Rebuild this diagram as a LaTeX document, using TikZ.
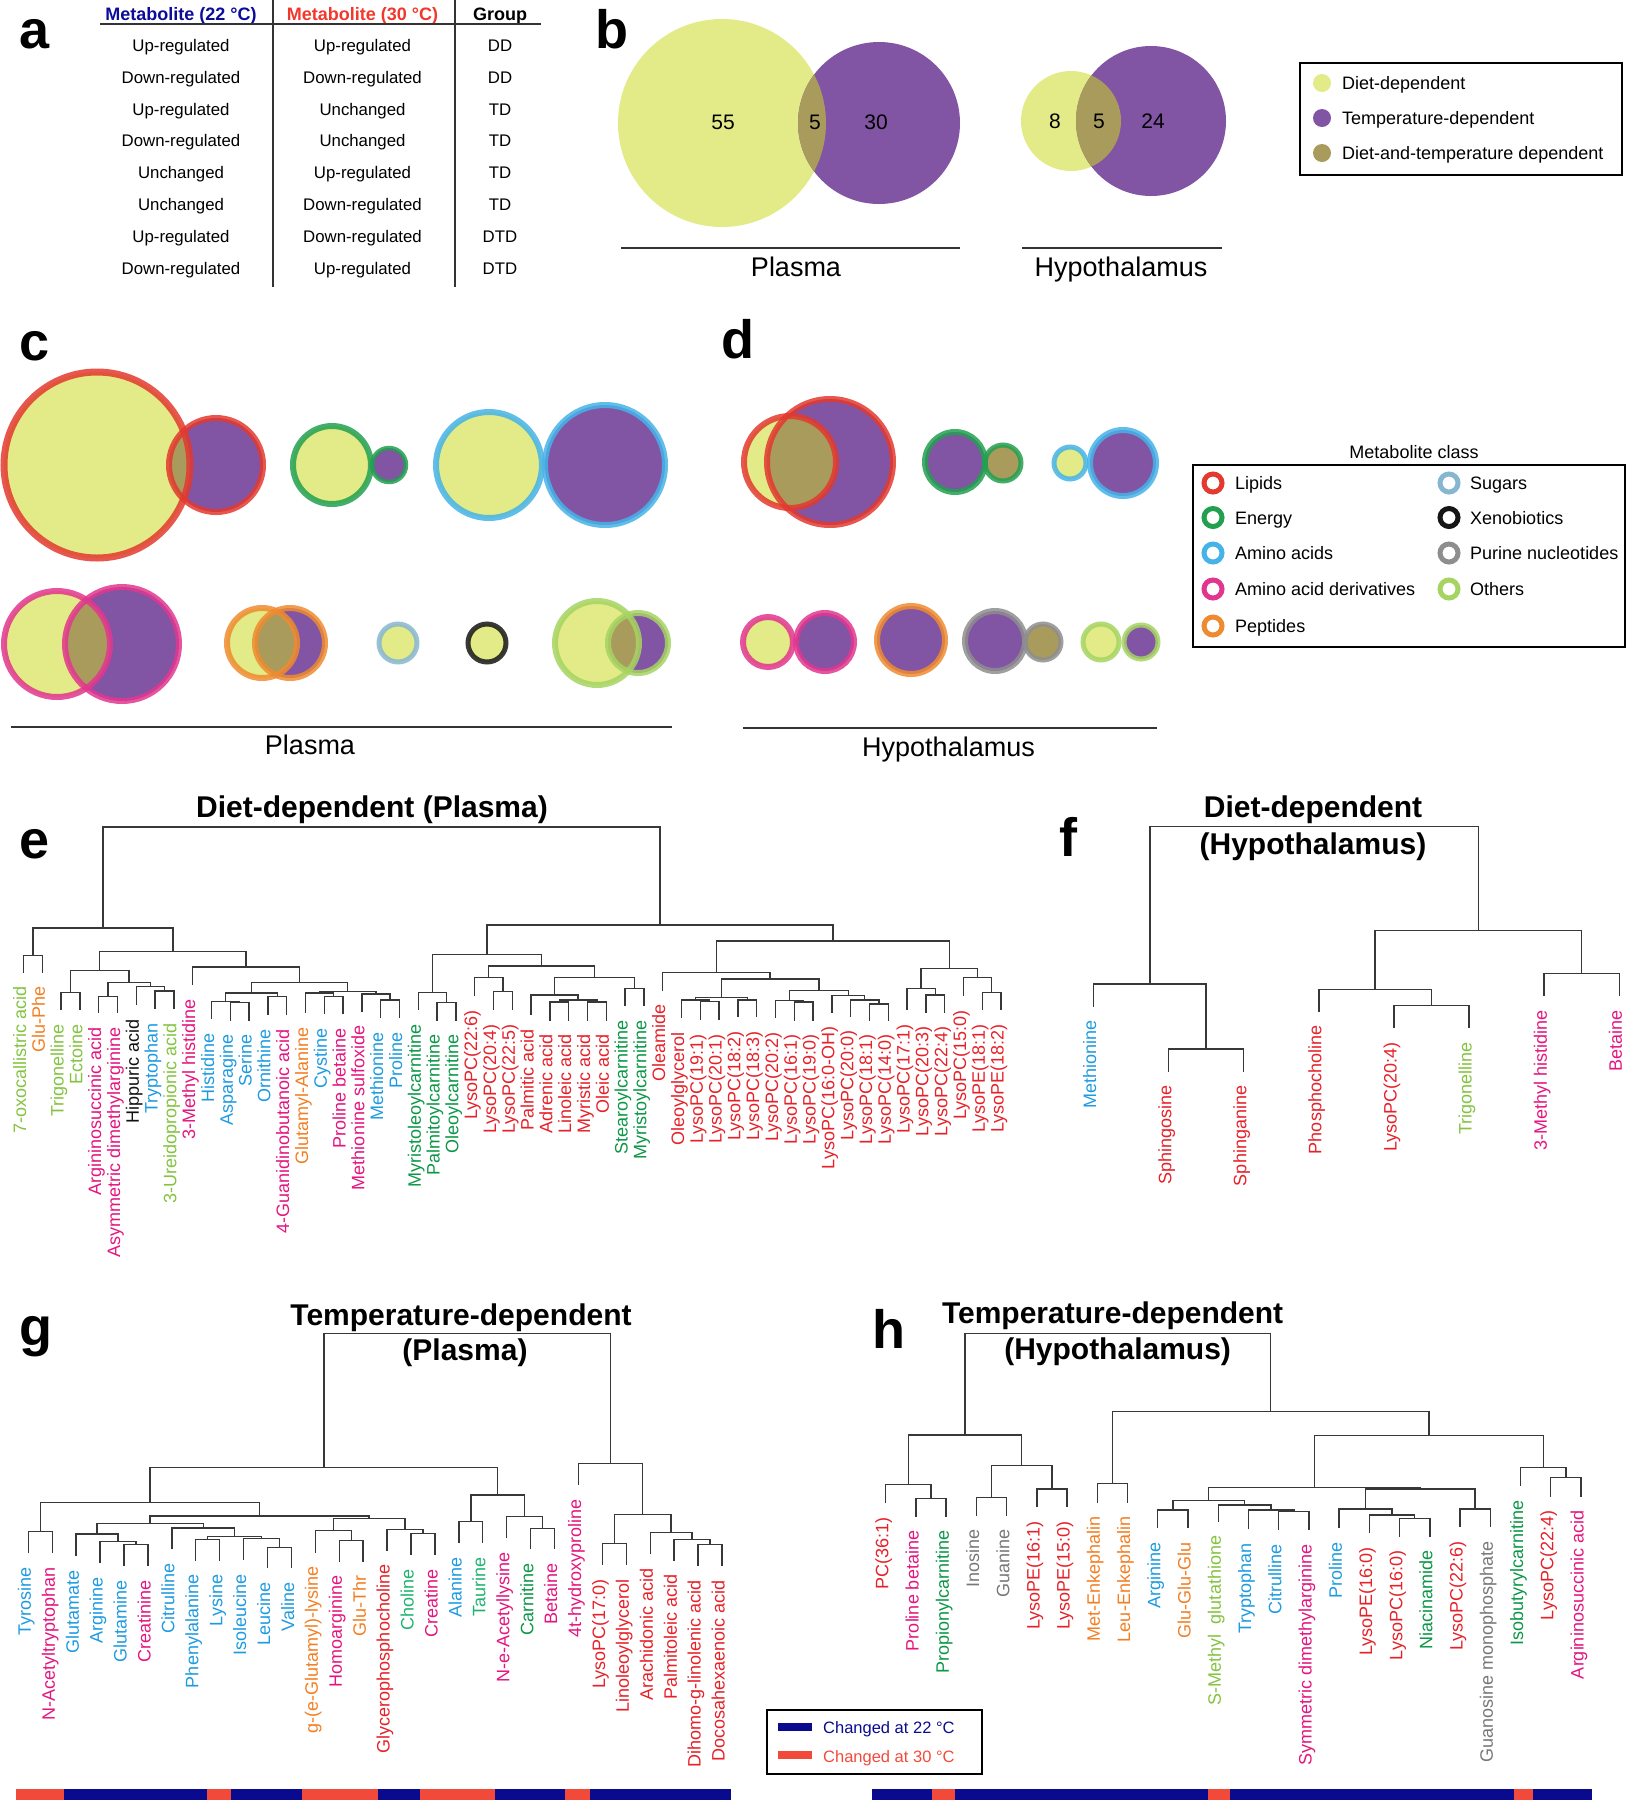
\documentclass[tikz,border=0pt]{standalone}
\usepackage{fontspec}
\setmainfont{Liberation Sans}
\usetikzlibrary{calc}
\definecolor{DietY}{HTML}{E2EB87}
\definecolor{TempP}{HTML}{8254A4}
\definecolor{BothO}{HTML}{A99B5B}
\definecolor{RLip}{HTML}{E3392E}
\definecolor{REn}{HTML}{22A050}
\definecolor{RAa}{HTML}{45B3E8}
\definecolor{RAad}{HTML}{E2368E}
\definecolor{RPep}{HTML}{EE8B30}
\definecolor{RSug}{HTML}{87B6D0}
\definecolor{RXen}{HTML}{161616}
\definecolor{RPur}{HTML}{8E8E8E}
\definecolor{ROth}{HTML}{A6D462}
\definecolor{TLip}{HTML}{E62129}
\definecolor{TEn}{HTML}{0B9746}
\definecolor{TEnb}{HTML}{1FB370}
\definecolor{TAa}{HTML}{1D9BE0}
\definecolor{TAad}{HTML}{E5157F}
\definecolor{TPep}{HTML}{F37E22}
\definecolor{TOth}{HTML}{84C341}
\definecolor{TPur}{HTML}{777777}
\definecolor{TXen}{HTML}{111111}
\definecolor{BarBlue}{HTML}{0A0A8F}
\definecolor{BarRed}{HTML}{F24A3A}
\definecolor{HeadBlue}{HTML}{0C0C9A}
\definecolor{HeadRed}{HTML}{F2372C}

% dendrogram merge: name, child, child, height
\newcommand\dmerge[4]{%
  \path let \p1=(#2), \p2=(#3) in ({(\x1+\x2)/2},{-#4pt}) coordinate (#1);
  \draw[dend] (#2) |- (#1) -| (#3);}
% venn pieces
\newcommand\vennfill[4]{\fill[#4] (#1,#2) circle (#3pt);}
\newcommand\vennring[4]{\draw[ring,#4] (#1,#2) circle (#3pt);}
\newcommand\vennboth[6]{\begin{scope}\clip (#1,#2) circle (#3pt);
  \fill[BothO] (#4,#5) circle (#6pt);\end{scope}}

\begin{document}
\begin{tikzpicture}[x=1pt,y=-1pt,
  dend/.style={draw=black!78,line width=1.4pt},
  rule/.style={draw=black!80,line width=2pt},
  lbox/.style={draw=black,line width=2.5pt},
  leaf/.style={rotate=90,anchor=mid east,inner sep=0pt,font=\fontsize{18}{18}\selectfont},
  plab/.style={anchor=base west,inner sep=0pt,font=\fontsize{54}{54}\selectfont\bfseries},
  cell/.style={anchor=base,inner sep=0pt,font=\fontsize{16.8}{18}\selectfont},
  head/.style={anchor=base,inner sep=0pt,font=\fontsize{18}{20}\selectfont\bfseries},
  ttl/.style={anchor=base,inner sep=0pt,font=\fontsize{30}{30}\selectfont\bfseries},
  tissue/.style={anchor=base,inner sep=0pt,font=\fontsize{27}{27}\selectfont},
  key/.style={anchor=base west,inner sep=0pt,font=\fontsize{18}{18}\selectfont},
  chg/.style={anchor=base west,inner sep=0pt,font=\fontsize{16.5}{16.5}\selectfont},
  num/.style={anchor=base,inner sep=0pt,font=\fontsize{21}{21}\selectfont},
  ring/.style={line width=6pt,draw opacity=0.85},
  keyring/.style={line width=5pt,fill=white}]
\useasboundingbox (0,0) rectangle (1627,1800);

% panel letters
\node[plab] (pa) at (19,48) {a};
\node[plab] (pb) at (595,48) {b};
\node[plab] (pc) at (19,360) {c};
\node[plab] (pd) at (721,358) {d};
\node[plab] (pe) at (19,858) {e};
\node[plab] (pf) at (1059,856.7) {f};
\node[plab] (pg) at (19,1345) {g};
\node[plab] (ph) at (872,1348.3) {h};

% a: table
\node[head,text=HeadBlue] (h22) at (181,20) {Metabolite (22 °C)};
\node[head,text=HeadRed] (h30) at (362.5,20) {Metabolite (30 °C)};
\node[head] (hgr) at (500,20) {Group};
\draw[rule] (100,24) -- (541,24);
\draw[rule] (273,0) -- (273,287);
\draw[rule] (454.5,0) -- (454.5,287);
\foreach \ua/\ub/\gr [count=\r] in {Up-regulated/Up-regulated/DD,
  Down-regulated/Down-regulated/DD, Up-regulated/Unchanged/TD,
  Down-regulated/Unchanged/TD, Unchanged/Up-regulated/TD,
  Unchanged/Down-regulated/TD, Up-regulated/Down-regulated/DTD,
  Down-regulated/Up-regulated/DTD}{
  \pgfmathsetmacro\ry{51.7+(\r-1)*31.76}
  \node[cell] (ra\r) at (181,\ry) {\ua};
  \node[cell] (rb\r) at (362.5,\ry) {\ub};
  \node[cell] (rc\r) at (500,\ry) {\gr};
}

% b: venn
\vennfill{722}{123}{104}{DietY}
\vennfill{879}{123}{81}{TempP}
\vennboth{722}{123}{104}{879}{123}{81}
\node[num] (b55) at (723,129.5) {55};
\node[num] (b5a) at (815,129.5) {5};
\node[num] (b30) at (876,129.5) {30};
\draw[rule] (621,248) -- (960,248);
\node[tissue] (bpl) at (796,276.7) {Plasma};
\vennfill{1071}{121}{50}{DietY}
\vennfill{1151}{121}{75}{TempP}
\vennboth{1071}{121}{50}{1151}{121}{75}
\node[num] (b8) at (1055,128.5) {8};
\node[num] (b5b) at (1099,128.5) {5};
\node[num] (b24) at (1153,128.5) {24};
\draw[rule] (1022,248) -- (1222,248);
\node[tissue] (bhy) at (1121,276) {Hypothalamus};
\draw[lbox] (1300,63) rectangle (1622,175);
\fill[DietY] (1322,83) circle (9pt);
\fill[TempP] (1322,118) circle (9pt);
\fill[BothO] (1322,153) circle (9pt);
\node[key] (kd) at (1342,89.5) {Diet-dependent};
\node[key] (kt) at (1342,124.5) {Temperature-dependent};
\node[key] (kdt) at (1342,159.5) {Diet-and-temperature dependent};

% c: plasma classes
\vennfill{97}{465}{93}{DietY}
\vennfill{216}{465}{47}{TempP}
\vennboth{97}{465}{93}{216}{465}{47}
\vennfill{332}{465}{39}{DietY}
\vennfill{389}{465}{17}{TempP}
\vennfill{489}{465}{53}{DietY}
\vennfill{605}{465}{60}{TempP}
\vennfill{57}{644}{53}{DietY}
\vennfill{122}{644}{57}{TempP}
\vennboth{57}{644}{53}{122}{644}{57}
\vennfill{262}{643}{35}{DietY}
\vennfill{290}{643}{35}{TempP}
\vennboth{262}{643}{35}{290}{643}{35}
\vennfill{398}{643}{19}{DietY}
\vennfill{487}{643}{19}{DietY}
\vennfill{597}{643}{42}{DietY}
\vennfill{638}{643}{30}{TempP}
\vennboth{597}{643}{42}{638}{643}{30}
\vennring{97}{465}{93}{RLip,line width=7pt}
\vennring{216}{465}{47}{RLip}
\vennring{332}{465}{39}{REn}
\vennring{389}{465}{17}{REn,line width=4.5pt}
\vennring{489}{465}{53}{RAa}
\vennring{605}{465}{60}{RAa}
\vennring{57}{644}{53}{RAad}
\vennring{122}{644}{57}{RAad}
\vennring{262}{643}{35}{RPep}
\vennring{290}{643}{35}{RPep}
\vennring{398}{643}{19}{RSug,line width=5pt}
\vennring{487}{643}{19}{RXen,line width=5pt}
\vennring{597}{643}{42}{ROth}
\vennring{638}{643}{30}{ROth}
\draw[rule] (11,727) -- (672,727);
\node[tissue] (cpl) at (310,754.5) {Plasma};

% d: hypothalamus classes
\vennfill{790}{462}{46}{DietY}
\vennfill{830}{462}{63}{TempP}
\vennboth{790}{462}{46}{830}{462}{63}
\vennfill{955}{462}{30}{TempP}
\vennfill{1003}{463}{18}{BothO}
\vennfill{1070}{463}{16}{DietY}
\vennfill{1123}{463}{33}{TempP}
\vennfill{768}{642}{25}{DietY}
\vennfill{825}{642}{29}{TempP}
\vennfill{911}{640}{34}{TempP}
\vennfill{995}{641}{30}{TempP}
\vennfill{1043}{642}{18}{BothO}
\vennfill{1101}{642}{18}{DietY}
\vennfill{1141}{642}{17}{TempP}
\vennring{790}{462}{46}{RLip}
\vennring{830}{462}{63}{RLip}
\vennring{955}{462}{30}{REn}
\vennring{1003}{463}{18}{REn,line width=5pt}
\vennring{1070}{463}{16}{RAa,line width=5pt}
\vennring{1123}{463}{33}{RAa}
\vennring{768}{642}{25}{RAad}
\vennring{825}{642}{29}{RAad}
\vennring{911}{640}{34}{RPep}
\vennring{995}{641}{30}{RPur}
\vennring{1043}{642}{18}{RPur,line width=5pt}
\vennring{1101}{642}{18}{ROth,line width=5pt}
\vennring{1141}{642}{17}{ROth,line width=5pt}
\draw[rule] (743,728) -- (1157,728);
\node[tissue] (dhy) at (948.5,756) {Hypothalamus};

% metabolite class key
\node[key,anchor=base] (mck) at (1414,458.5) {Metabolite class};
\draw[lbox] (1193,465) rectangle (1625,647);
\foreach \rc/\nm/\yy [count=\k] in {RLip/Lipids/483, REn/Energy/517.5,
  RAa/Amino acids/553, RAad/Amino acid derivatives/589, RPep/Peptides/626}{
  \draw[keyring,draw=\rc] (1213,\yy) circle (9pt);
  \node[key] (mcl\k) at (1235,\yy+6.5) {\nm};
}
\foreach \rc/\nm/\yy [count=\k] in {RSug/Sugars/483, RXen/Xenobiotics/517.5,
  RPur/Purine nucleotides/553, ROth/Others/589}{
  \draw[keyring,draw=\rc] (1449,\yy) circle (9pt);
  \node[key] (mcr\k) at (1470,\yy+6.5) {\nm};
}

% e: diet-dependent plasma
\node[ttl] (etl) at (372,817.3) {Diet-dependent (Plasma)};
\foreach \tip/\col/\txt [count=\i] in {
  972.7/TOth/7-oxocallistric acid, 972.7/TPep/Glu-Phe,
  1010/TOth/Trigonelline, 1010/TOth/Ectoine,
  1013/TAad/Argininosuccinic acid, 1013/TAad/Asymmetric dimethylarginine,
  1005/TXen/Hippuric acid, 1009/TAa/Tryptophan,
  1009/TOth/3-Ureidopropionic acid, 985/TAad/3-Methyl histidine,
  1019/TAa/Histidine, 1020.7/TAa/Asparagine, 1020.7/TAa/Serine,
  1015/TAa/Ornithine, 1015/TAad/4-Guanidinobutanoic acid,
  1013/TPep/Glutamyl-Alanine, 1014/TAa/Cystine, 1014/TAad/Proline betaine,
  1011.7/TAad/Methionine sulfoxide, 1018/TAa/Methionine, 1018/TAa/Proline,
  1010/TEn/Myristoleoylcarnitine, 1020.7/TEn/Palmitoylcarnitine,
  1020.7/TEn/Oleoylcarnitine, 996/TLip/LysoPC(22:6), 1010/TLip/LysoPC(20:4),
  1010/TLip/LysoPC(22:5), 1015/TLip/Palmitic acid, 1020.7/TLip/Adrenic acid,
  1020.7/TLip/Linoleic acid, 1020.7/TLip/Myristic acid, 1020.7/TLip/Oleic acid,
  1006/TEn/Stearoylcarnitine, 1006/TEn/Myristoylcarnitine, 990.7/TLip/Oleamide,
  1018/TLip/Oleoylglycerol, 1020/TLip/LysoPC(19:1), 1020/TLip/LysoPC(20:1),
  1017/TLip/LysoPC(18:2), 1017/TLip/LysoPC(18:3), 1018/TLip/LysoPC(20:2),
  1020.7/TLip/LysoPC(16:1), 1020.7/TLip/LysoPC(19:0),
  1012.7/TLip/LysoPC(16:0-OH), 1016.7/TLip/LysoPC(20:0),
  1020.7/TLip/LysoPC(18:1), 1020.7/TLip/LysoPC(14:0), 1010/TLip/LysoPC(17:1),
  1012.7/TLip/LysoPC(20:3), 1012.7/TLip/LysoPC(22:4), 996/TLip/LysoPC(15:0),
  1010/TLip/LysoPE(18:1), 1010/TLip/LysoPE(18:2)}{
  \pgfmathsetmacro\lx{23.4+(\i-1)*18.8}
  \coordinate (e\i) at (\lx,\tip);
  \node[leaf,text=\col] (le\i) at ([yshift=-14pt]e\i) {\txt};
}
\dmerge{ea}{e1}{e2}{955.7}
\dmerge{eb}{e3}{e4}{992.7}
\dmerge{ec}{e5}{e6}{996.7}
\dmerge{ed}{e8}{e9}{991}
\dmerge{ee}{e7}{ed}{986.7}
\dmerge{ef}{ec}{ee}{982.3}
\dmerge{eg}{eb}{ef}{970.7}
\dmerge{eh}{e12}{e13}{1002.7}
\dmerge{ei}{e11}{eh}{1001.7}
\dmerge{ej}{e14}{e15}{996.7}
\dmerge{ek}{ei}{ej}{993}
\dmerge{el}{e17}{e18}{996.7}
\dmerge{em}{e16}{el}{993}
\dmerge{en}{e20}{e21}{1000}
\dmerge{eo}{e19}{en}{994}
\dmerge{ep}{em}{eo}{991.5}
\dmerge{eq}{ek}{ep}{982.7}
\dmerge{er}{e10}{eq}{967}
\dmerge{es}{eg}{er}{951.7}
\dmerge{et}{ea}{es}{928}
\dmerge{eu}{e23}{e24}{1002.7}
\dmerge{ev}{e22}{eu}{992.3}
\dmerge{ew}{e26}{e27}{991.7}
\dmerge{ex}{e25}{ew}{977.7}
\dmerge{ey}{e29}{e30}{1002}
\dmerge{ez}{e31}{e32}{1002}
\dmerge{eA}{ey}{ez}{1000}
\dmerge{eB}{e28}{eA}{995}
\dmerge{eC}{e33}{e34}{988.3}
\dmerge{eD}{eB}{eC}{977.7}
\dmerge{eE}{ex}{eD}{966}
\dmerge{eF}{ev}{eE}{954.3}
\dmerge{eG}{e37}{e38}{1001.7}
\dmerge{eH}{e36}{eG}{1000}
\dmerge{eI}{e39}{e40}{1000}
\dmerge{eJ}{eH}{eI}{997.3}
\dmerge{eK}{e42}{e43}{1002}
\dmerge{eL}{e41}{eK}{1000.7}
\dmerge{eM}{e46}{e47}{1004}
\dmerge{eN}{e45}{eM}{1000}
\dmerge{eO}{e44}{eN}{995.7}
\dmerge{eP}{eL}{eO}{990.7}
\dmerge{eQ}{eJ}{eP}{979}
\dmerge{eR}{e35}{eQ}{972.7}
\dmerge{eS}{e49}{e50}{995}
\dmerge{eT}{e48}{eS}{988.3}
\dmerge{eU}{e52}{e53}{992.3}
\dmerge{eV}{e51}{eU}{977.7}
\dmerge{eW}{eT}{eV}{968.3}
\dmerge{eX}{eR}{eW}{941}
\dmerge{eY}{eF}{eX}{925}
\dmerge{eZ}{et}{eY}{827}

% f: diet-dependent hypothalamus
\node[ttl] (ftl1) at (1313,817.3) {Diet-dependent};
\node[ttl] (ftl2) at (1313,854) {(Hypothalamus)};
\foreach \tip/\col/\txt [count=\i] in {
  1006.7/TAa/Methionine, 1071.7/TLip/Sphingosine, 1071.7/TLip/Sphinganine,
  1011.7/TLip/Phosphocholine, 1028/TLip/LysoPC(20:4), 1028/TOth/Trigonelline,
  996/TAad/3-Methyl histidine, 996/TAad/Betaine}{
  \pgfmathsetmacro\lx{1093.5+(\i-1)*75.1}
  \coordinate (f\i) at (\lx,\tip);
  \node[leaf,text=\col] (lf\i) at ([yshift=-14pt]f\i) {\txt};
}
\dmerge{fa}{f2}{f3}{1049}
\dmerge{fb}{f1}{fa}{984}
\dmerge{fc}{f5}{f6}{1005.7}
\dmerge{fd}{f4}{fc}{989.3}
\dmerge{fe}{f7}{f8}{973.3}
\dmerge{ff}{fd}{fe}{930.7}
\dmerge{fg}{fb}{ff}{826.7}

% g: temperature-dependent plasma
\node[ttl] (gtl1) at (461,1325) {Temperature-dependent};
\node[ttl] (gtl2) at (465,1360.7) {(Plasma)};
\foreach \tip/\col/\txt [count=\i] in {
  1553.3/TAa/Tyrosine, 1553.3/TAad/N-Acetyltryptophan, 1556/TAa/Glutamate,
  1563.3/TAa/Arginine, 1566/TAa/Glutamine, 1566/TAad/Creatinine,
  1549.3/TAa/Citrulline, 1560.7/TAa/Phenylalanine, 1560.7/TAa/Lysine,
  1560/TAa/Isoleucine, 1568.3/TAa/Leucine, 1568.3/TAa/Valine,
  1552.7/TPep/g-(e-Glutamyl)-lysine, 1561.7/TAad/Homoarginine,
  1561.7/TPep/Glu-Thr, 1550.7/TLip/Glycerophosphocholine, 1555/TEnb/Choline,
  1555/TAad/Creatine, 1543.3/TAa/Alanine, 1543.3/TEnb/Taurine,
  1538.3/TAad/N-e-Acetyllysine, 1549.3/TEn/Carnitine, 1549.3/TAad/Betaine,
  1485/TAad/4t-hydroxyproline, 1565/TLip/LysoPC(17:0),
  1565/TLip/Linoleoylglycerol, 1554.3/TLip/Arachidonic acid,
  1560.7/TLip/Palmitoleic acid, 1566/TLip/Dihomo-g-linolenic acid,
  1566/TLip/Docosahexaenoic acid}{
  \pgfmathsetmacro\lx{28.3+(\i-1)*23.92}
  \coordinate (g\i) at (\lx,\tip);
  \node[leaf,text=\col] (lg\i) at ([yshift=-14pt]g\i) {\txt};
}
\dmerge{ga}{g1}{g2}{1531.7}
\dmerge{gb}{g5}{g6}{1544.3}
\dmerge{gc}{g4}{gb}{1541.7}
\dmerge{gd}{g3}{gc}{1534}
\dmerge{ge}{g11}{g12}{1547.3}
\dmerge{gf}{g10}{ge}{1538.7}
\dmerge{gg}{g8}{g9}{1539.3}
\dmerge{gh}{gg}{gf}{1536.5}
\dmerge{gi}{g7}{gh}{1528}
\dmerge{gj}{gd}{gi}{1523.3}
\dmerge{gk}{g14}{g15}{1540.7}
\dmerge{gl}{g13}{gk}{1530.7}
\dmerge{gm}{g17}{g18}{1533.3}
\dmerge{gn}{g16}{gm}{1529.3}
\dmerge{go}{gl}{gn}{1518.3}
\dmerge{gp}{gj}{go}{1516}
\dmerge{gq}{ga}{gp}{1502.3}
\dmerge{gr}{g19}{g20}{1521.7}
\dmerge{gs}{g22}{g23}{1528.3}
\dmerge{gt}{g21}{gs}{1516.7}
\dmerge{gu}{gr}{gt}{1495}
\dmerge{gv}{gq}{gu}{1467.7}
\dmerge{gw}{g25}{g26}{1543.3}
\dmerge{gx}{g29}{g30}{1544.3}
\dmerge{gy}{g28}{gx}{1539.3}
\dmerge{gz}{g27}{gy}{1532.7}
\dmerge{gA}{gw}{gz}{1514.3}
\dmerge{gB}{g24}{gA}{1463.3}
\dmerge{gC}{gv}{gB}{1333.3}
% g: change bar
\foreach \xa/\xb/\bc in {16/63.7/BarRed, 63.7/206.7/BarBlue, 206.7/231.2/BarRed,
  231.2/302/BarBlue, 302/377.5/BarRed, 377.5/420/BarBlue, 420/494.5/BarRed,
  494.5/565.3/BarBlue, 565.3/590/BarRed, 590/731/BarBlue}
  \fill[\bc] (\xa,1789) rectangle (\xb,1800);

% h: temperature-dependent hypothalamus
\node[ttl] (htl1) at (1112.6,1323.3) {Temperature-dependent};
\node[ttl] (htl2) at (1117.6,1359.3) {(Hypothalamus)};
\foreach \tip/\col/\txt [count=\i] in {
  1503.3/TLip/PC(36:1), 1516.7/TAad/Proline betaine,
  1516.7/TEn/Propionylcarnitine, 1515.7/TPur/Inosine, 1515.7/TPur/Guanine,
  1507.3/TLip/LysoPE(16:1), 1507.3/TLip/LysoPE(15:0),
  1502.7/TPep/Met-Enkephalin, 1502.7/TPep/Leu-Enkephalin,
  1528.3/TAa/Arginine, 1528.3/TPep/Glu-Glu-Glu,
  1521.7/TOth/S-Methyl~ glutathione, 1529.3/TAa/Tryptophan,
  1530/TAa/Citrulline, 1530/TAad/Symmetric dimethylarginine,
  1528.3/TAa/Proline, 1533.3/TLip/LysoPE(16:0), 1536.7/TLip/LysoPC(16:0),
  1536.7/TEn/Niacinamide, 1527.3/TLip/LysoPC(22:6),
  1527.3/TPur/Guanosine monophosphate, 1486/TEn/Isobutyrylcarnitine,
  1496.7/TLip/LysoPC(22:4), 1496.7/TAad/Argininosuccinic acid}{
  \pgfmathsetmacro\lx{885.7+(\i-1)*30.23}
  \coordinate (h\i) at (\lx,\tip);
  \node[leaf,text=\col] (lh\i) at ([yshift=-14pt]h\i) {\txt};
}
\dmerge{ha}{h2}{h3}{1498.3}
\dmerge{hb}{h1}{ha}{1484.3}
\dmerge{hc}{h4}{h5}{1497.3}
\dmerge{hd}{h6}{h7}{1489}
\dmerge{he}{hc}{hd}{1465.7}
\dmerge{hf}{hb}{he}{1435}
\dmerge{hg}{h8}{h9}{1483.3}
\dmerge{hh}{h10}{h11}{1510}
\dmerge{hi}{h14}{h15}{1511.7}
\dmerge{hj}{h13}{hi}{1510}
\dmerge{hk}{h12}{hj}{1505}
\dmerge{hl}{hh}{hk}{1500.7}
\dmerge{hm}{h18}{h19}{1518.3}
\dmerge{hn}{h17}{hm}{1515}
\dmerge{ho}{h16}{hn}{1509}
\dmerge{hp}{h20}{h21}{1509}
\dmerge{hq}{ho}{hp}{1489}
\dmerge{hr}{hl}{hq}{1487.7}
\dmerge{hs}{h23}{h24}{1477.7}
\dmerge{ht}{h22}{hs}{1467.7}
\dmerge{hu}{hr}{ht}{1435.7}
\dmerge{hv}{hg}{hu}{1411.7}
\dmerge{hw}{hf}{hv}{1333.3}
% h: change bar
\foreach \xa/\xb/\bc in {872.3/931.8/BarBlue, 931.8/955/BarRed,
  955/1207.7/BarBlue, 1207.7/1230/BarRed, 1230/1514/BarBlue,
  1514/1532.8/BarRed, 1532.8/1592/BarBlue}
  \fill[\bc] (\xa,1789) rectangle (\xb,1800);

% change key
\draw[lbox] (767,1710) rectangle (982,1774);
\fill[BarBlue] (778,1723) rectangle (812,1731);
\fill[BarRed] (778,1751) rectangle (812,1759);
\node[chg,text=BarBlue] (c22) at (823,1733.5) {Changed at 22 °C};
\node[chg,text=BarRed] (c30) at (823,1762) {Changed at 30 °C};
\end{tikzpicture}
\end{document}
